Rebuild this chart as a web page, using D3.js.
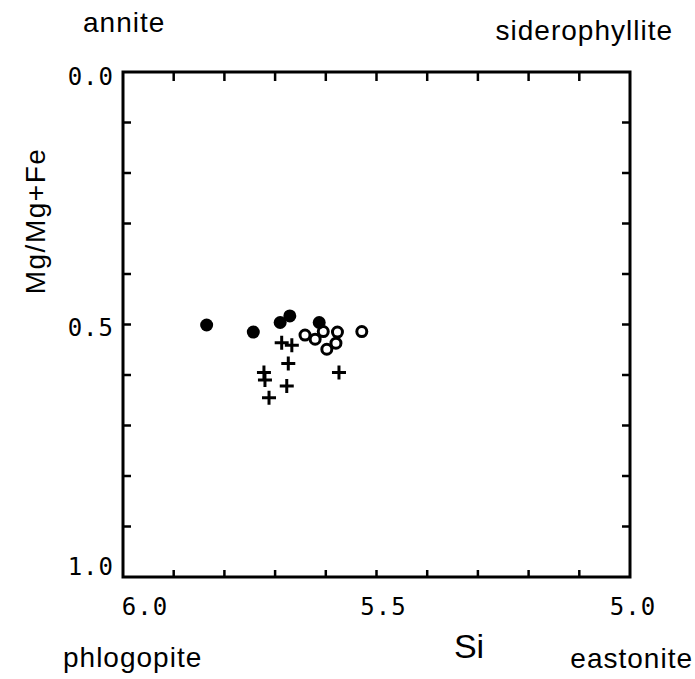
<!DOCTYPE html>
<html>
<head>
<meta charset="utf-8">
<script src="https://cdn.jsdelivr.net/npm/d3@7"></script>
<style>
  html, body { margin: 0; padding: 0; background: #fff; }
  svg { display: block; }
</style>
</head>
<body>
<script>
// ---- data ----
const filledSi = [5.835, 5.743, 5.690, 5.671, 5.613];
const filledMg = [0.501, 0.515, 0.496, 0.483, 0.496];

const openSi = [5.641, 5.621, 5.605, 5.577, 5.580, 5.598, 5.529];
const openMg = [0.521, 0.529, 0.514, 0.515, 0.537, 0.549, 0.514];

const plusSi = [5.687, 5.667, 5.674, 5.722, 5.720, 5.677, 5.712, 5.574];
const plusMg = [0.536, 0.541, 0.577, 0.595, 0.610, 0.622, 0.645, 0.595];

const xTickLabels = [6.0, 5.5, 5.0];
const yTickLabels = [0.0, 0.5, 1.0];
const minorTicks = [0.1, 0.2, 0.3, 0.4, 0.5, 0.6, 0.7, 0.8, 0.9];

const cornerLabels = ["annite", "siderophyllite", "phlogopite", "eastonite"];

// ---- chart ----
const W = 695, H = 679;
const svg = d3.select("body").append("svg").attr("width", W).attr("height", H);
svg.append("rect").attr("width", W).attr("height", H).attr("fill", "#fff");

const x = d3.scaleLinear().domain([6.0, 5.0]).range([123, 630]);
const y = d3.scaleLinear().domain([0.0, 1.0]).range([72, 577]);

const g = svg.append("g");

// frame
g.append("rect")
  .attr("x", x(6.0)).attr("y", y(0))
  .attr("width", x(5.0) - x(6.0)).attr("height", y(1) - y(0))
  .attr("fill", "none").attr("stroke", "#000").attr("stroke-width", 3);

// ticks (all four sides, pointing inward)
minorTicks.forEach(t => {
  const xv = x(6.0 - t);
  g.append("line").attr("x1", xv).attr("x2", xv).attr("y1", y(0)).attr("y2", y(0) + 9)
    .attr("stroke", "#000").attr("stroke-width", 2.5);
  g.append("line").attr("x1", xv).attr("x2", xv).attr("y1", y(1)).attr("y2", y(1) - 7)
    .attr("stroke", "#000").attr("stroke-width", 2.5);
  const yv = y(t);
  g.append("line").attr("x1", x(6.0)).attr("x2", x(6.0) + 8).attr("y1", yv).attr("y2", yv)
    .attr("stroke", "#000").attr("stroke-width", 2.5);
  g.append("line").attr("x1", x(5.0)).attr("x2", x(5.0) - 8).attr("y1", yv).attr("y2", yv)
    .attr("stroke", "#000").attr("stroke-width", 2.5);
});

const monoFont = "'DejaVu Sans Mono', monospace";
// y tick labels
const yDy = [5, 3, -10];
yTickLabels.forEach((v, i) => {
  g.append("text")
    .attr("x", 114).attr("y", y(v) + yDy[i])
    .attr("text-anchor", "end").attr("dominant-baseline", "central")
    .attr("font-family", monoFont).attr("font-size", 24).attr("letter-spacing", 1)
    .text(d3.format(".1f")(v));
});
// x tick labels
const xDx = [22, 7, 3];
xTickLabels.forEach((v, i) => {
  g.append("text")
    .attr("x", x(v) + xDx[i]).attr("y", 615)
    .attr("text-anchor", "middle")
    .attr("font-family", monoFont).attr("font-size", 24).attr("letter-spacing", 1)
    .text(d3.format(".1f")(v));
});

const sansFont = "'Liberation Sans', Arial, sans-serif";
// axis titles
g.append("text")
  .attr("transform", `translate(45,221) rotate(-90)`)
  .attr("text-anchor", "middle")
  .attr("font-family", sansFont).attr("font-size", 28).attr("letter-spacing", 1.5)
  .text("Mg/Mg+Fe");
g.append("text")
  .attr("x", 469).attr("y", 658)
  .attr("text-anchor", "middle")
  .attr("font-family", sansFont).attr("font-size", 34)
  .text("Si");

// corner labels
const cornerPos = [[83, 32, "start"], [673, 40, "end"], [63, 667, "start"], [693, 668, "end"]];
cornerLabels.forEach((t, i) => {
  g.append("text")
    .attr("x", cornerPos[i][0]).attr("y", cornerPos[i][1])
    .attr("text-anchor", cornerPos[i][2])
    .attr("font-family", sansFont).attr("font-size", 28).attr("letter-spacing", 1)
    .text(t);
});

// points
const filled = filledSi.map((s, i) => ({ s, m: filledMg[i] }));
const open = openSi.map((s, i) => ({ s, m: openMg[i] }));
const plus = plusSi.map((s, i) => ({ s, m: plusMg[i] }));

g.selectAll("circle.filled").data(filled).enter().append("circle")
  .attr("class", "filled")
  .attr("cx", d => x(d.s)).attr("cy", d => y(d.m)).attr("r", 6.5)
  .attr("fill", "#000");

g.selectAll("circle.open").data(open).enter().append("circle")
  .attr("class", "open")
  .attr("cx", d => x(d.s)).attr("cy", d => y(d.m)).attr("r", 5)
  .attr("fill", "none").attr("stroke", "#000").attr("stroke-width", 3);

const ps = 7;
g.selectAll("path.plus").data(plus).enter().append("path")
  .attr("class", "plus")
  .attr("d", d => {
    const cx = x(d.s), cy = y(d.m);
    return `M${cx - ps},${cy}H${cx + ps}M${cx},${cy - ps}V${cy + ps}`;
  })
  .attr("stroke", "#000").attr("stroke-width", 3).attr("fill", "none");
</script>
</body>
</html>
